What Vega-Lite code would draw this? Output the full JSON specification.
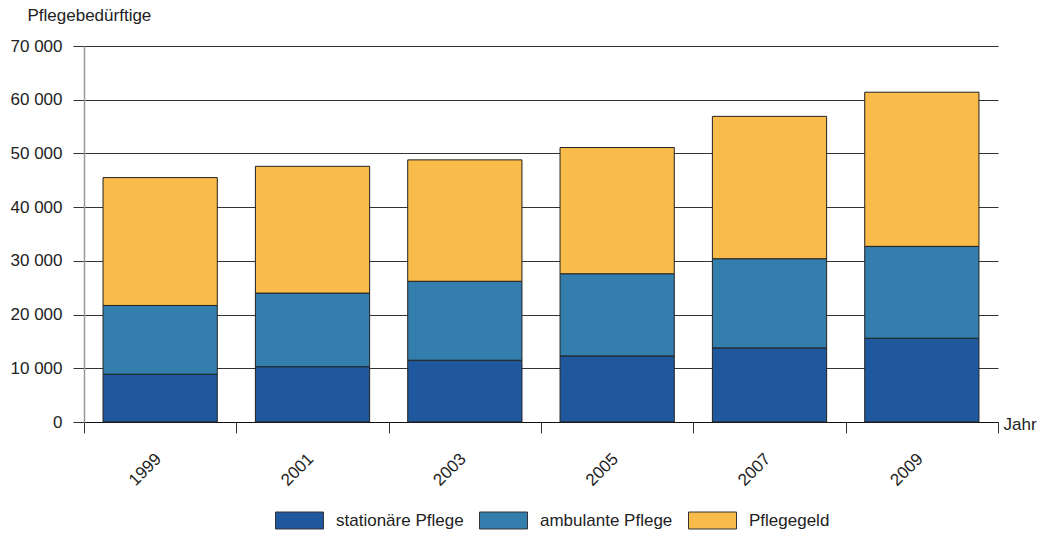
{
  "$schema": "https://vega.github.io/schema/vega-lite/v6.json",
  "width": 914,
  "height": 376,
  "autosize": "none",
  "padding": {"left": 84, "top": 46, "right": 42, "bottom": 119},
  "background": "white",
  "config": {
    "view": {"stroke": null},
    "font": "Liberation Sans",
    "axis": {"labelFont": "Liberation Sans", "titleFont": "Liberation Sans", "labelColor": "#222", "titleColor": "#222", "titleFontWeight": "normal"},
    "legend": {"labelFont": "Liberation Sans", "labelColor": "#222"}
  },
  "data": {
    "values": [
      {"Jahr": "1999", "Art": "stationäre Pflege", "idx": 1, "Anzahl": 8900},
      {"Jahr": "1999", "Art": "ambulante Pflege", "idx": 2, "Anzahl": 12800},
      {"Jahr": "1999", "Art": "Pflegegeld", "idx": 3, "Anzahl": 23800},
      {"Jahr": "2001", "Art": "stationäre Pflege", "idx": 1, "Anzahl": 10300},
      {"Jahr": "2001", "Art": "ambulante Pflege", "idx": 2, "Anzahl": 13700},
      {"Jahr": "2001", "Art": "Pflegegeld", "idx": 3, "Anzahl": 23600},
      {"Jahr": "2003", "Art": "stationäre Pflege", "idx": 1, "Anzahl": 11500},
      {"Jahr": "2003", "Art": "ambulante Pflege", "idx": 2, "Anzahl": 14700},
      {"Jahr": "2003", "Art": "Pflegegeld", "idx": 3, "Anzahl": 22600},
      {"Jahr": "2005", "Art": "stationäre Pflege", "idx": 1, "Anzahl": 12300},
      {"Jahr": "2005", "Art": "ambulante Pflege", "idx": 2, "Anzahl": 15300},
      {"Jahr": "2005", "Art": "Pflegegeld", "idx": 3, "Anzahl": 23500},
      {"Jahr": "2007", "Art": "stationäre Pflege", "idx": 1, "Anzahl": 13800},
      {"Jahr": "2007", "Art": "ambulante Pflege", "idx": 2, "Anzahl": 16600},
      {"Jahr": "2007", "Art": "Pflegegeld", "idx": 3, "Anzahl": 26500},
      {"Jahr": "2009", "Art": "stationäre Pflege", "idx": 1, "Anzahl": 15600},
      {"Jahr": "2009", "Art": "ambulante Pflege", "idx": 2, "Anzahl": 17100},
      {"Jahr": "2009", "Art": "Pflegegeld", "idx": 3, "Anzahl": 28700}
    ]
  },
  "mark": {"type": "bar", "width": {"band": 0.75}, "stroke": "#222", "strokeWidth": 1},
  "encoding": {
    "x": {
      "field": "Jahr", "type": "ordinal",
      "scale": {"paddingInner": 0, "paddingOuter": 0},
      "axis": {
        "title": "Jahr", "titleX": 919, "titleY": 2, "titleAlign": "left", "titleBaseline": "middle", "titleAngle": 0, "titleFontSize": 17,
        "labelAngle": -45, "labelAlign": "right", "labelBaseline": "middle", "labelFontSize": 17, "labelPadding": 23, "labelOffset": -2,
        "tickBand": "extent", "tickSize": 11, "tickColor": "#333", "domainColor": "#111", "domainWidth": 1.2, "grid": false
      }
    },
    "y": {
      "field": "Anzahl", "type": "quantitative", "stack": "zero",
      "scale": {"domain": [0, 70000], "nice": false},
      "axis": {
        "title": "Pflegebedürftige", "titleAngle": 0, "titleAlign": "left", "titleBaseline": "alphabetic", "titleX": -57, "titleY": -26, "titleFontSize": 17,
        "values": [0, 10000, 20000, 30000, 40000, 50000, 60000, 70000],
        "labelExpr": "replace(format(datum.value, ','), ',', ' ')",
        "labelFontSize": 17, "labelPadding": 11, "tickSize": 11, "tickColor": "#333",
        "domainColor": "#999", "domainWidth": 1.5, "grid": true, "gridColor": "#333", "gridWidth": 1
      }
    },
    "color": {
      "field": "Art", "type": "nominal",
      "scale": {"domain": ["stationäre Pflege", "ambulante Pflege", "Pflegegeld"], "range": ["#1f589c", "#337ead", "#f9bb4a"]},
      "legend": {
        "title": null, "orient": "none", "direction": "horizontal", "legendX": 191, "legendY": 450,
        "symbolType": "M-1,-0.354H1V0.354H-1Z", "symbolSize": 2304, "symbolStrokeColor": "#333", "symbolStrokeWidth": 1, "symbolOpacity": 1,
        "labelFontSize": 17, "labelOffset": 12, "columnPadding": 13, "padding": 0
      }
    },
    "order": {"field": "idx", "type": "quantitative"}
  }
}
